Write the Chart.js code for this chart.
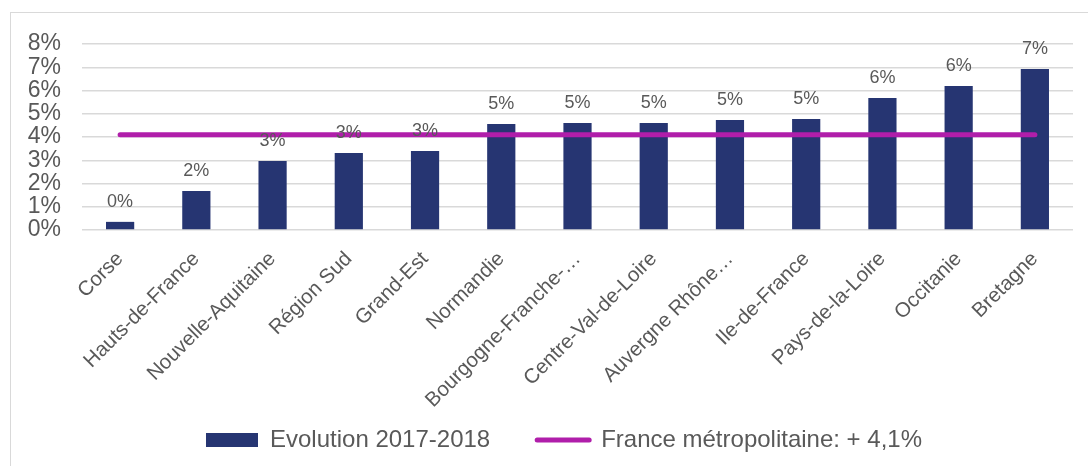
<!DOCTYPE html>
<html>
<head>
<meta charset="utf-8">
<script src="https://cdn.jsdelivr.net/npm/chart.js@4"></script>
<style>
  body { margin: 0; background: #fff; overflow: hidden; }
  #frame { position: absolute; left: 10px; top: 12px; width: 1100px; height: 470px; border: 1px solid #d9d9d9; }
</style>
</head>
<body>
<div id="frame"><canvas id="c" width="1100" height="470"></canvas></div>
<script>
// regions, sorted by growth
const regions = ["Corse", "Hauts-de-France", "Nouvelle-Aquitaine", "Région Sud", "Grand-Est", "Normandie",
  "Bourgogne-Franche-…", "Centre-Val-de-Loire", "Auvergne Rhône…", "Ile-de-France", "Pays-de-la-Loire",
  "Occitanie", "Bretagne"];
const evolution = [0.35, 1.68, 2.97, 3.31, 3.4, 4.56, 4.6, 4.6, 4.73, 4.77, 5.68, 6.19, 6.92];
const franceMetro = [4.1, 4.1, 4.1, 4.1, 4.1, 4.1, 4.1, 4.1, 4.1, 4.1, 4.1, 4.1, 4.1];
const yTicks = [0, 1, 2, 3, 4, 5, 6, 7, 8];

const navy = "#263572";
const purple = "#b01eaa";
const grey = "#595959";
const font = "'Liberation Sans', Arial, sans-serif";

// values above the bars
const barLabels = {
  id: "barLabels",
  afterDatasetsDraw(chart) {
    const ctx = chart.ctx;
    const meta = chart.getDatasetMeta(0);
    ctx.save();
    ctx.font = "18px " + font;
    ctx.fillStyle = grey;
    ctx.textAlign = "center";
    ctx.textBaseline = "alphabetic";
    meta.data.forEach((bar, i) => {
      ctx.fillText(Math.round(evolution[i]) + "%", bar.x, bar.y - 15);
    });
    ctx.restore();
  }
};

// nudge the legend up / right (the big item padding pushes it off)
const legendShift = {
  id: "legendShift",
  afterLayout(chart) {
    const lg = chart.legend;
    lg.left += 22; lg.right += 22;
    lg.top -= 27; lg.bottom -= 27;
  }
};

new Chart("c", {
  data: {
    labels: regions,
    datasets: [
      {
        type: "bar",
        label: "Evolution 2017-2018",
        data: evolution,
        backgroundColor: navy,
        barPercentage: 0.37,
        categoryPercentage: 1,
        order: 2
      },
      {
        type: "line",
        label: "France métropolitaine: + 4,1%",
        data: franceMetro,
        borderColor: purple,
        borderWidth: 5,
        borderCapStyle: "round",
        pointRadius: 0,
        order: 1
      }
    ]
  },
  options: {
    responsive: false,
    animation: false,
    layout: { padding: { top: 31, right: 38, bottom: 0, left: 0 } },
    plugins: {
      tooltip: { enabled: false },
      legend: {
        position: "bottom",
        maxHeight: 75,
        labels: {
          usePointStyle: true,
          pointStyleWidth: 52,
          boxHeight: 14,
          padding: 47,
          color: grey,
          font: { family: font, size: 24 },
          generateLabels() {
            return [
              { text: "Evolution 2017-2018", pointStyle: "rect", fillStyle: navy, strokeStyle: navy, lineWidth: 0, datasetIndex: 0, fontColor: grey },
              { text: "France métropolitaine: + 4,1%", pointStyle: "line", fillStyle: purple, strokeStyle: purple, lineWidth: 5, lineCap: "round", datasetIndex: 1, fontColor: grey }
            ];
          }
        }
      }
    },
    scales: {
      x: {
        grid: { display: false },
        border: { display: false },
        ticks: {
          color: grey,
          font: { family: font, size: 20.5 },
          minRotation: 45,
          maxRotation: 45,
          autoSkip: false,
          padding: 9
        },
        afterFit(scale) { scale.height = 178; }
      },
      y: {
        min: 0,
        max: 8,
        border: { display: false },
        grid: { color: "#d9d9d9", lineWidth: 1.5, drawTicks: true, tickLength: 21, tickColor: "rgba(0,0,0,0)" },
        afterBuildTicks(scale) { scale.ticks = yTicks.map(v => ({ value: v })); },
        ticks: {
          color: grey,
          font: { family: font, size: 23 },
          padding: 0,
          autoSkip: false,
          callback: v => v + "%"
        },
        afterFit(scale) { scale.width = 71; }
      }
    }
  },
  plugins: [barLabels, legendShift]
});
</script>
</body>
</html>
